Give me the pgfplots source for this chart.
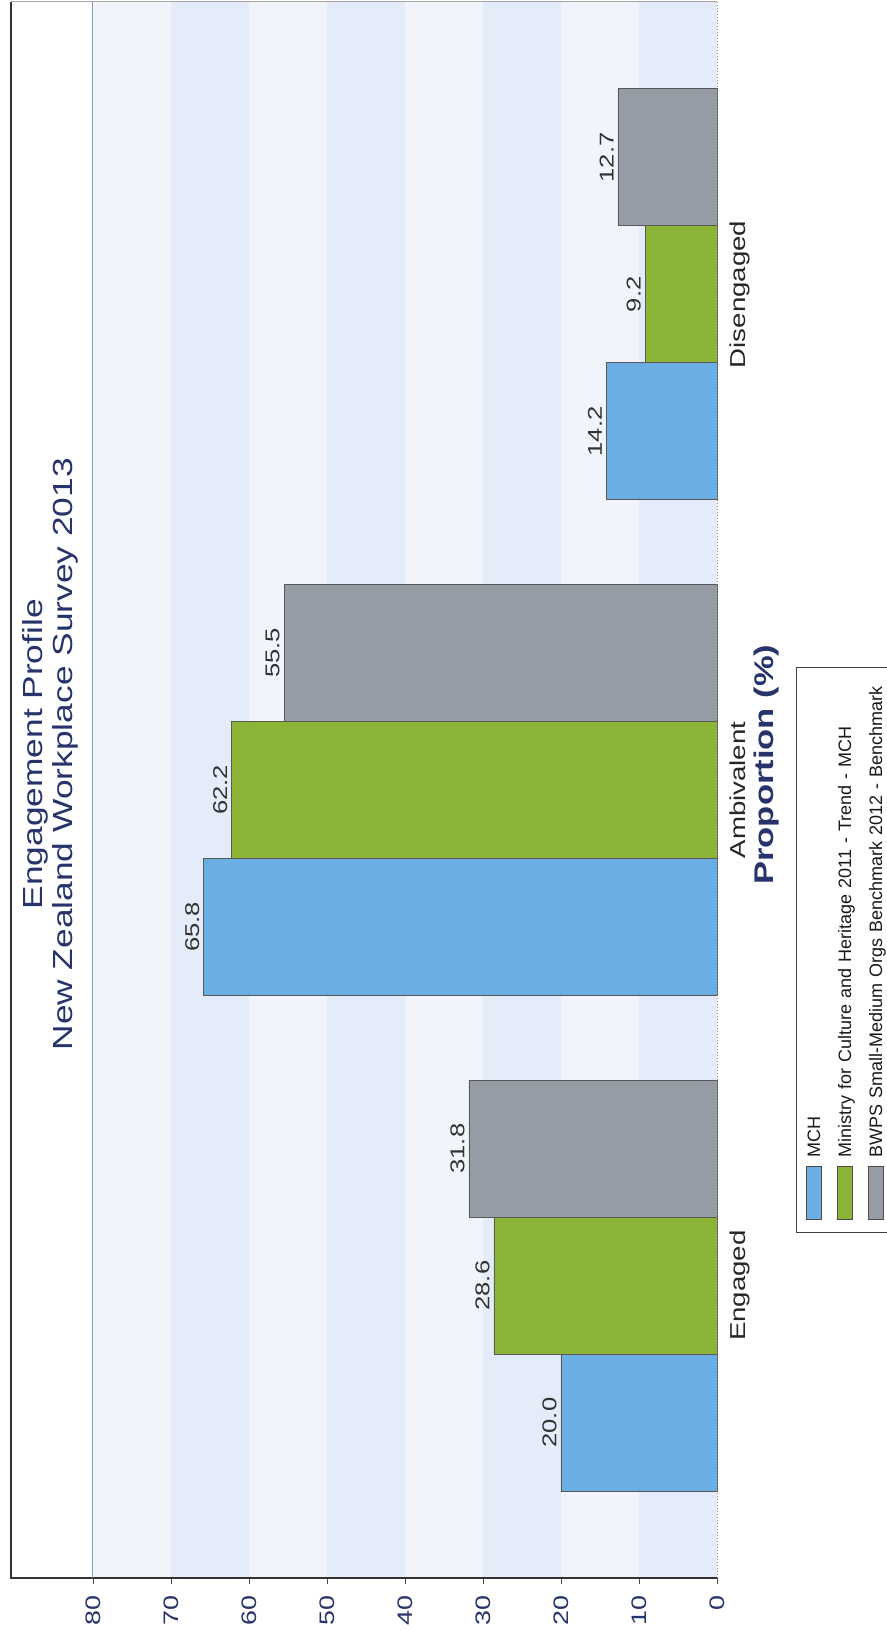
\documentclass[border=0pt]{standalone}
\usepackage{fontspec}
\setmainfont{Liberation Sans}[FakeStretch=1.28]
\newfontfamily\legfont{Liberation Sans}
\usepackage{pgfplots}
\pgfplotsset{compat=1.18}
\definecolor{cblue}{HTML}{6BAEE4}
\definecolor{cgreen}{HTML}{8CB437}
\definecolor{cgray}{HTML}{969CA5}
\definecolor{bandA}{HTML}{E3ECF8}
\definecolor{bandB}{HTML}{F1F5FB}
\definecolor{navy}{HTML}{27336A}
\definecolor{frameblue}{HTML}{8A9BB5}
\pgfkeys{/pgf/number format/assume math mode=true}
\newcommand{\sw}[1]{\raisebox{-0.3pt}{\setlength{\fboxsep}{0pt}\setlength{\fboxrule}{0.5pt}\fcolorbox{black!70}{#1}{\rule{0pt}{7pt}\hspace*{26pt}}}}
\pgfplotsset{
  mybar/.style={draw=black!65, line width=0.4pt},
}
\begin{document}
\begin{tikzpicture}
\begin{axis}[
  at={(5.5pt,29pt)}, anchor=south west,
  scale only axis, width=353pt, height=788pt,
  x dir=reverse,
  xmin=0, xmax=90.5, ymin=0.41, ymax=3.59,
  xbar=0pt, bar width=68.5pt,
  ytick=\empty,
  xtick={0,10,20,30,40,50,60,70,80},
  xtick pos=bottom,
  tick align=outside, major tick length=3pt,
  xtick style={draw=black!70, thin},
  axis line style={draw=none},
  clip=false,
  set layers,
  xticklabel style={rotate=90, anchor=east, inner sep=5.5pt, font=\fontsize{10.5}{12}\selectfont, color=navy},
  nodes near coords={\pgfmathprintnumber[fixed,fixed zerofill,precision=1]{\pgfplotspointmeta}},
  every node near coord/.append style={rotate=90, anchor=south, inner sep=2pt, font=\fontsize{10}{12}\selectfont, color=black!80},
]
\begin{pgfonlayer}{axis background}
\fill[bandA] (axis cs:0,0.41) rectangle (axis cs:10,3.59);
\fill[bandB] (axis cs:10,0.41) rectangle (axis cs:20,3.59);
\fill[bandA] (axis cs:20,0.41) rectangle (axis cs:30,3.59);
\fill[bandB] (axis cs:30,0.41) rectangle (axis cs:40,3.59);
\fill[bandA] (axis cs:40,0.41) rectangle (axis cs:50,3.59);
\fill[bandB] (axis cs:50,0.41) rectangle (axis cs:60,3.59);
\fill[bandA] (axis cs:60,0.41) rectangle (axis cs:70,3.59);
\fill[bandB] (axis cs:70,0.41) rectangle (axis cs:80,3.59);
\fill[white] (axis cs:80,0.41) rectangle (axis cs:90.5,3.59);
\end{pgfonlayer}
\addplot[mybar, fill=cblue] coordinates {(20.0,1) (65.8,2) (14.2,3)};
\addplot[mybar, fill=cgreen] coordinates {(28.6,1) (62.2,2) (9.2,3)};
\addplot[mybar, fill=cgray] coordinates {(31.8,1) (55.5,2) (12.7,3)};
\draw[black!80, line width=0.6pt] (axis cs:0,0.41) -- (axis cs:90.5,0.41) -- (axis cs:90.5,3.59);
\draw[black!35, line width=0.5pt] (axis cs:90.5,3.59) -- (axis cs:0,3.59);
\draw[black!45, densely dotted, line width=0.5pt] (axis cs:0,0.41) -- (axis cs:0,3.59);
\draw[frameblue, line width=0.5pt] (axis cs:80,0.41) -- (axis cs:80,3.59);
\node[rotate=90, anchor=north, inner sep=0pt, font=\fontsize{10.8}{13}\selectfont, text=black!85] at ([xshift=6pt]axis cs:0,1) {Engaged};
\node[rotate=90, anchor=north, inner sep=0pt, font=\fontsize{10.8}{13}\selectfont, text=black!85] at ([xshift=6pt]axis cs:0,2) {Ambivalent};
\node[rotate=90, anchor=north, inner sep=0pt, font=\fontsize{10.8}{13}\selectfont, text=black!85] at ([xshift=6pt]axis cs:0,3) {Disengaged};
\node[rotate=90, anchor=center, font=\bfseries\fontsize{13.5}{16}\selectfont, text=navy] at ([xshift=24.5pt]axis cs:0,2.051) {Proportion (\%)};
\node[rotate=90, align=center, font=\fontsize{13.8}{15}\selectfont, text=navy] at (axis cs:85.5,2.072) {Engagement Profile\\New Zealand Workplace Survey 2013};
\node[rotate=90, anchor=north west, draw=black!75, fill=white, inner xsep=6.5pt, inner ysep=1pt, text width=269.5pt, align=left, font=\legfont\fontsize{9}{15.5}\selectfont, text=black!90] at (axis cs:-10.13,1.106) {\begin{tabular}{@{}l@{\hspace{4pt}}l@{}}
\sw{cblue} & MCH\\
\sw{cgreen} & Ministry for Culture and Heritage 2011 - Trend - MCH\\
\sw{cgray} & BWPS Small-Medium Orgs Benchmark 2012 - Benchmark
\end{tabular}};
\end{axis}
\pgfresetboundingbox
\path[use as bounding box] (0pt,0pt) rectangle (443.5pt,818pt);
\end{tikzpicture}
\end{document}
